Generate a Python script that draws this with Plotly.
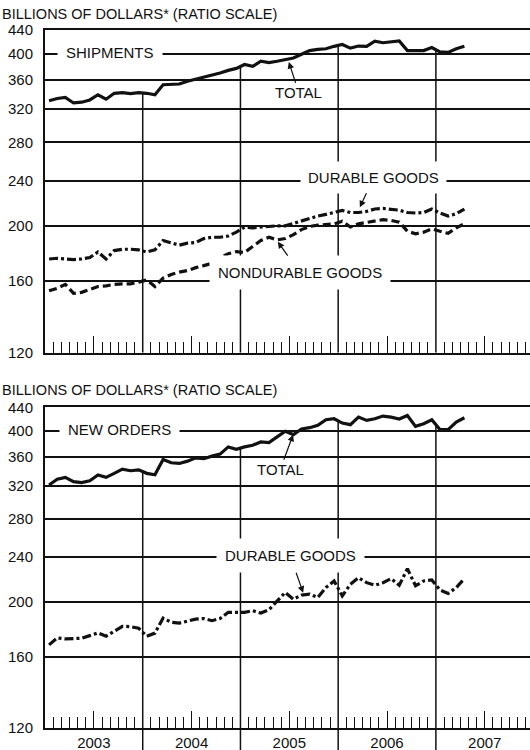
import math
import plotly.graph_objects as go

# ---------------- data (monthly, Jan 2003 - Apr 2007, billions of dollars) -------------
start_year = 2003
n_months = 52
years = [2003, 2004, 2005, 2006, 2007]
year_labels = ["2003", "2004", "2005", "2006", "2007"]
y_ticks = [120, 160, 200, 240, 280, 320, 360, 400, 440]

ship_total = [331, 334, 335.5, 328, 329, 332, 339, 333, 341, 342,
              340.5, 342, 341, 339, 353, 353, 354, 358, 361, 364,
              366, 370, 374, 377, 383, 380, 388, 386, 388, 391,
              393, 399, 405, 407, 408, 412, 415, 409, 412.5, 412,
              420.6, 418, 419, 421, 405, 405, 405, 410, 403, 402,
              408, 412]
ship_durable = [175, 175.5, 175, 174.6, 175, 176, 180, 175, 181, 182,
                182, 181.5, 180, 181.5, 188.5, 186.5, 185, 186.5, 187, 190,
                191, 191, 192, 195, 199, 198.4, 199, 199.5, 200, 200,
                202, 203.5, 205.7, 208, 209.4, 211, 212.8, 211, 211, 212,
                214, 214.5, 214, 213, 211, 210.6, 211, 214, 210.6, 208,
                210, 214]
ship_nondurable = [154, 155.5, 158, 152.4, 153, 155, 156.6, 157, 158, 158.3,
                   158.3, 159.4, 160.8, 156.6, 162, 164.4, 166, 167, 169, 170.4,
                   172, 176, 178.7, 180.3, 179.6, 184, 188.5, 191, 189, 190,
                   193, 197, 199.5, 200.5, 201, 201.6, 203.7, 199, 201.6, 202.7,
                   204.4, 205, 204.4, 203, 195.7, 193.7, 195, 197.6, 195.7, 194,
                   198.4, 201.6]
orders_total = [321.4, 328.9, 331.5, 325.7, 324.4, 327, 334.6, 331.5, 336.9, 342.8,
                340.5, 341.7, 336.9, 335, 356.4, 351.7, 350.7, 354, 358.8, 357.5,
                361.2, 364.2, 375, 371.5, 375, 377.6, 382.7, 381.7, 390.5, 399.5,
                394.2, 403.3, 405.4, 409.3, 418.7, 420.4, 413.1, 410.4, 423.2, 417.5,
                420.4, 424.9, 423.2, 419.8, 426, 407.6, 412, 418.7, 402.2, 402.2,
                414.8, 422.1]
orders_durable = [168.1, 172.9, 172.2, 172.2, 172.7, 174.5, 176.4, 174.1, 177.4, 181.2,
                  181, 179.8, 174.1, 176.3, 187.4, 184.2, 183.6, 185.4, 186.6, 187,
                  185.4, 187, 191.8, 191.8, 191.8, 193, 191.2, 193.8, 201, 207.9,
                  202.3, 205.6, 206.4, 203.7, 212, 217.8, 205, 214.9, 220.7, 216.3,
                  214, 216.3, 219.9, 214, 228.9, 213.6, 217.8, 218.7, 210, 207,
                  212, 219.9]

# ---------------- styling ----------------
FONT = "Liberation Sans"
BLACK = "#111111"
x_vals = [start_year + (i + 0.5) / 12 for i in range(n_months)]
x_range = [2003.0, 2007.963]
y_min, y_max = 120, 440
y_range = [math.log10(y_min), math.log10(y_max)]

fig = go.Figure()


def year_lines(total, xa, ya):
    xs, ys = [], []
    for yb in years[1:]:
        k = (yb - start_year) * 12
        v = math.sqrt(total[k - 1] * total[k])
        xs += [yb, yb, None]
        ys += [y_min, v, None]
    fig.add_trace(go.Scatter(x=xs, y=ys, mode="lines",
                             line=dict(color=BLACK, width=1.5),
                             xaxis=xa, yaxis=ya, hoverinfo="skip", showlegend=False))


def series(vals, dash, xa, ya):
    fig.add_trace(go.Scatter(x=x_vals, y=vals, mode="lines",
                             line=dict(color=BLACK, width=3.2, dash=dash),
                             xaxis=xa, yaxis=ya, hoverinfo="skip", showlegend=False))


DASH = "8px,4px"
DASHDOT = "9px,3px,3px,3px"

year_lines(ship_total, "x", "y")
series(ship_nondurable, DASH, "x", "y")
series(ship_durable, DASHDOT, "x", "y")
series(ship_total, "solid", "x", "y")

year_lines(orders_total, "x2", "y2")
series(orders_durable, DASHDOT, "x2", "y2")
series(orders_total, "solid", "x2", "y2")

# below-axis extension of year separators on the bottom panel
for yb in years[1:]:
    fig.add_shape(type="line", xref="x2", yref="y2 domain", x0=yb, x1=yb,
                  y0=-0.08, y1=0, line=dict(color=BLACK, width=1.5))

minor_vals = [y + m / 12 for y in years for m in range(1, 12) if m != 6]


def xaxis(show_labels, anchor):
    return dict(range=x_range, showgrid=False, zeroline=False, anchor=anchor,
                showline=True, linecolor=BLACK, linewidth=2, mirror=True,
                tickmode="array", tickvals=[y + 0.5 for y in years], ticktext=year_labels,
                ticks="inside", ticklen=17, tickwidth=1.3, tickcolor=BLACK,
                showticklabels=show_labels, automargin=False,
                tickfont=dict(family=FONT, size=15, color=BLACK),
                minor=dict(tickmode="array", tickvals=minor_vals, ticks="inside",
                           ticklen=11, tickwidth=1.3, tickcolor=BLACK, showgrid=False),
                fixedrange=True)


def yaxis(domain, anchor):
    return dict(type="log", range=y_range, domain=domain, anchor=anchor,
                tickmode="array", tickvals=y_ticks, ticktext=[str(t) for t in y_ticks],
                ticks="", showgrid=True, gridcolor=BLACK, gridwidth=1.5,
                showline=True, linecolor=BLACK, linewidth=2, zeroline=False,
                tickfont=dict(family=FONT, size=15, color=BLACK), automargin=False,
                ticklabelstandoff=7, fixedrange=True)


ann = []
tfont = dict(family=FONT, size=15, color=BLACK)
L = math.log10

# plot area: x from 45 px to 530 px (485 px wide)
ann.append(dict(text="BILLIONS OF DOLLARS* (RATIO SCALE)", xref="paper", yref="paper",
                x=-0.0928, y=1.0229, xanchor="left", yanchor="middle", showarrow=False,
                font=dict(family=FONT, size=14.5, color=BLACK)))
ann.append(dict(text="BILLIONS OF DOLLARS* (RATIO SCALE)", xref="paper", yref="paper",
                x=-0.0928, y=0.4842, xanchor="left", yanchor="middle", showarrow=False,
                font=dict(family=FONT, size=14.5, color=BLACK)))

# top panel labels
ann.append(dict(text="SHIPMENTS", xref="x", yref="y", x=2003.663, y=L(400), yshift=1,
                showarrow=False, bgcolor="white", borderpad=8, font=tfont))
ann.append(dict(text="TOTAL", xref="x", yref="y", x=2005.495, y=L(387), showarrow=True,
                ax=10, ay=31, arrowhead=2, arrowsize=1.1, arrowwidth=1.2,
                arrowcolor=BLACK, font=tfont))
ann.append(dict(text="DURABLE GOODS", xref="x", yref="y", x=2006.222, y=L(215.5),
                showarrow=True, ax=14, ay=-30, arrowhead=2, arrowsize=1.1, arrowwidth=1.2,
                arrowcolor=BLACK, bgcolor="white", borderpad=7, font=tfont))
ann.append(dict(text="NONDURABLE GOODS", xref="x", yref="y", x=2005.382, y=L(187.6),
                showarrow=True, ax=22, ay=31, arrowhead=2, arrowsize=1.1, arrowwidth=1.2,
                arrowcolor=BLACK, bgcolor="white", borderpad=8, font=tfont))

# bottom panel labels
ann.append(dict(text="NEW ORDERS", xref="x2", yref="y2", x=2003.766, y=L(400), yshift=1,
                showarrow=False, bgcolor="white", borderpad=8, font=tfont))
ann.append(dict(text="TOTAL", xref="x2", yref="y2", x=2005.539, y=L(394), showarrow=True,
                ax=-13, ay=35, arrowhead=2, arrowsize=1.1, arrowwidth=1.2,
                arrowcolor=BLACK, font=tfont))
ann.append(dict(text="DURABLE GOODS", xref="x2", yref="y2", x=2005.642, y=L(207.6),
                showarrow=True, ax=-13, ay=-37, arrowhead=2, arrowsize=1.1, arrowwidth=1.2,
                arrowcolor=BLACK, bgcolor="white", borderpad=8, font=tfont))

fig.update_layout(
    width=530, height=750,
    margin=dict(l=45, r=0, t=30, b=22, autoexpand=False),
    paper_bgcolor="white", plot_bgcolor="white",
    font=dict(family=FONT, size=15, color=BLACK),
    xaxis=xaxis(False, "y"), xaxis2=xaxis(True, "y2"),
    yaxis=yaxis([0.5377, 1.0], "x"),
    yaxis2=yaxis([0.0, 0.4592], "x2"),
    annotations=ann,
    showlegend=False,
)

fig.write_html(
    "out.html",
    config={"displayModeBar": False},
    post_script="document.body.style.margin='0px';document.body.style.padding='0px';"
                "document.body.style.overflow='hidden';",
)
